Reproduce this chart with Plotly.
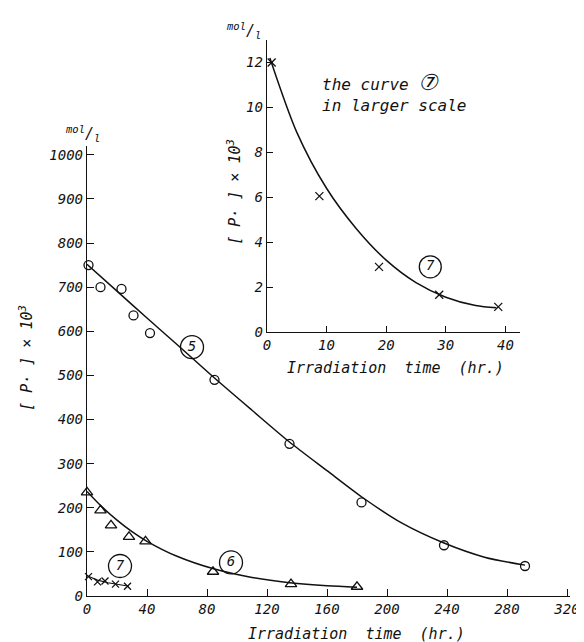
import plotly.graph_objects as go

# ---------------- data ----------------
# curve 5 (open circles)
t5 = [1, 9, 23, 31, 42, 85, 135, 183, 238, 292]
p5 = [750, 700, 696, 636, 596, 490, 345, 212, 115, 68]
t5_fit = [0, 20, 40, 60, 85, 110, 135, 160, 183, 210, 238, 265, 292]
p5_fit = [752, 691, 630, 570, 494, 421, 349, 284, 225, 165, 120, 88, 70]

# curve 6 (open triangles)
t6 = [0, 9, 16, 28, 39, 84, 136, 180]
p6 = [235, 194, 160, 134, 124, 55, 27, 21]
t6_fit = [0, 10, 20, 30, 40, 60, 85, 110, 135, 160, 180]
p6_fit = [237, 202, 172, 146, 124, 90, 61, 42, 30, 23, 20]

# curve 7 (crosses) on the main scale
t7 = [1, 7, 12, 19, 27]
p7 = [44, 32, 34, 27, 22]
t7_fit = [0, 7, 14, 21, 28]
p7_fit = [46, 36, 30, 26, 22]

# curve 7 in larger scale (inset)
t7i = [0.8, 8.8, 18.8, 28.9, 38.8]
p7i = [12.0, 6.05, 2.9, 1.66, 1.12]
t7i_fit = [0.5, 5, 10, 15, 20, 25, 30, 35, 38.5]
p7i_fit = [12.2, 8.9, 6.4, 4.6, 3.2, 2.2, 1.55, 1.18, 1.08]

# circled curve numbers
lab_main_t = [70, 96, 22]
lab_main_p = [564, 76, 68]
lab_main_txt = ["5", "6", "7"]
lab_in_t = [27.4]
lab_in_p = [2.9]
lab_in_txt = ["7"]

# axis ticks
x_ticks = [0, 40, 80, 120, 160, 200, 240, 280, 320]
y_ticks = [0, 100, 200, 300, 400, 500, 600, 700, 800, 900, 1000]
xi_ticks = [0, 10, 20, 30, 40]
yi_ticks = [0, 2, 4, 6, 8, 10, 12]

# ---------------- figure ----------------
W, H = 584, 642
ML, MR, MT, MB = 79, 15, 30, 54
PW, PH = W - ML - MR, H - MT - MB
FONT = "DejaVu Sans Mono"
INK = "#111111"


def px(x):
    return (x - ML) / PW


def py(y):
    return (H - MB - y) / PH


fig = go.Figure()

line = dict(color=INK, width=1.5, shape="spline", smoothing=0.8)

# main panel
fig.add_trace(go.Scatter(x=t5_fit, y=p5_fit, mode="lines", line=line, hoverinfo="skip"))
fig.add_trace(go.Scatter(x=t6_fit, y=p6_fit, mode="lines", line=line, hoverinfo="skip"))
fig.add_trace(go.Scatter(x=t7_fit, y=p7_fit, mode="lines", line=dict(color=INK, width=1.1), hoverinfo="skip"))
fig.add_trace(go.Scatter(x=t5, y=p5, mode="markers",
                         marker=dict(symbol="circle-open", size=9, color=INK, line=dict(width=1.3)),
                         cliponaxis=False))
fig.add_trace(go.Scatter(x=t6, y=p6, mode="markers",
                         marker=dict(symbol="triangle-up-open", size=10, color=INK, line=dict(width=1.3)),
                         cliponaxis=False))
fig.add_trace(go.Scatter(x=t7, y=p7, mode="markers",
                         marker=dict(symbol="x-thin-open", size=7, color=INK, line=dict(width=1.3)),
                         cliponaxis=False))
fig.add_trace(go.Scatter(x=lab_main_t, y=lab_main_p, mode="markers+text", text=lab_main_txt,
                         textposition="middle center",
                         textfont=dict(family=FONT, size=14, color=INK, style="italic"),
                         marker=dict(symbol="circle-open", size=23, color=INK, line=dict(width=1.3)),
                         cliponaxis=False))

# inset panel
fig.add_trace(go.Scatter(x=t7i_fit, y=p7i_fit, mode="lines", line=line, xaxis="x2", yaxis="y2",
                         hoverinfo="skip"))
fig.add_trace(go.Scatter(x=t7i, y=p7i, mode="markers", xaxis="x2", yaxis="y2",
                         marker=dict(symbol="x-thin-open", size=8, color=INK, line=dict(width=1.3)),
                         cliponaxis=False))
fig.add_trace(go.Scatter(x=lab_in_t, y=lab_in_p, mode="markers+text", text=lab_in_txt,
                         textposition="middle center", xaxis="x2", yaxis="y2",
                         textfont=dict(family=FONT, size=14, color=INK, style="italic"),
                         marker=dict(symbol="circle-open", size=22, color=INK, line=dict(width=1.3)),
                         cliponaxis=False))

axis_common = dict(showline=True, linecolor=INK, linewidth=1.4, ticks="inside",
                   tickcolor=INK, tickwidth=1.2, showgrid=False, zeroline=False,
                   tickfont=dict(family=FONT, size=14, color=INK, style="italic"))

fig.update_layout(
    width=W, height=H,
    margin=dict(l=ML, r=MR, t=MT, b=MB),
    paper_bgcolor="white", plot_bgcolor="white",
    showlegend=False,
    xaxis=dict(**axis_common, range=[0, 322], domain=[0, 1], anchor="y",
               tickvals=x_ticks, ticklen=7),
    yaxis=dict(**axis_common, range=[0, 1020], domain=[0, py(138)], anchor="x",
               tickvals=y_ticks, ticklen=7),
    xaxis2=dict(**axis_common, range=[0, 42.4], domain=[px(261.5), px(518)], anchor="y2",
                tickvals=xi_ticks, ticklen=6),
    yaxis2=dict(**axis_common, range=[0, 13.0], domain=[py(324), py(32)], anchor="x2",
                tickvals=yi_ticks, ticklen=6),
)

ann_font = dict(family=FONT, size=15, color=INK, style="italic")
annotations = [
    dict(x=px(352), y=py(626), text="Irradiation  time  (hr.)", font=ann_font),
    dict(x=px(392), y=py(360), text="Irradiation  time  (hr.)", font=ann_font),
    dict(x=px(17), y=py(350), text="[ P· ] × 10<sup>3</sup>", textangle=-90, font=ann_font),
    dict(x=px(228), y=py(184), text="[ P· ] × 10<sup>3</sup>", textangle=-90, font=ann_font),
    dict(x=px(74), y=py(125), text="<sup>mol</sup>/<sub>l</sub>", font=dict(family=FONT, size=15, color=INK, style="italic")),
    dict(x=px(238), y=py(22), text="<sup>mol</sup>/<sub>l</sub>", font=dict(family=FONT, size=15, color=INK, style="italic")),
    dict(x=px(315), y=py(60), text="the curve <span style='font-size:22px'>⑦</span><br>in larger scale",
         align="left", xanchor="left", yanchor="top",
         font=dict(family=FONT, size=16, color=INK, style="italic")),
]
for a in annotations:
    a.setdefault("xref", "paper")
    a.setdefault("yref", "paper")
    a.setdefault("showarrow", False)
    a.setdefault("xanchor", "center")
    a.setdefault("yanchor", "middle")
fig.update_layout(annotations=annotations)

fig.write_html("out.html")
